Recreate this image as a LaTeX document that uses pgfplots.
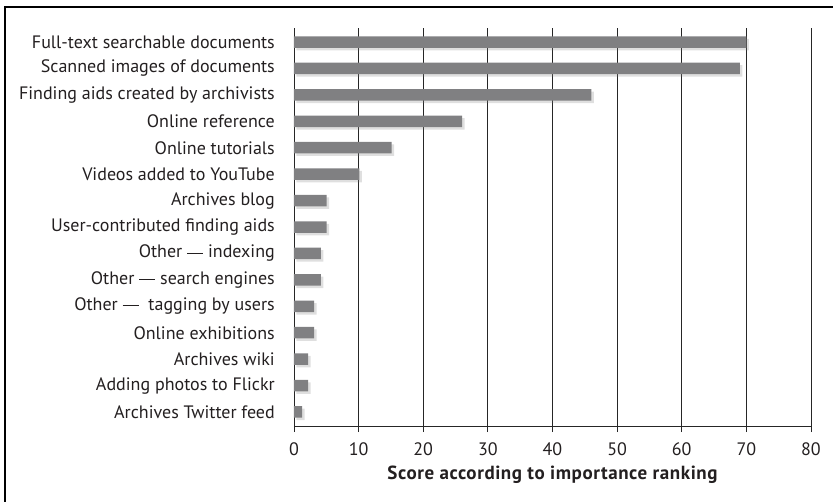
\documentclass[border=0pt]{standalone}
\usepackage{pgfplots}
\pgfplotsset{compat=1.18}
\usepackage{fontspec}
\setmainfont{PT Sans}
\usetikzlibrary{shadows}
\definecolor{barfill}{RGB}{128,128,130}
\definecolor{txt}{RGB}{35,31,32}
\newcommand{\emd}{\raisebox{0.24em}{\rule{0.9em}{0.06em}}}
\pgfplotstableread{
y val
0 70
1 69
2 46
3 26
4 15.1
5 10.1
6 5.05
7 5.05
8 4.15
9 4.15
10 3.1
11 3.1
12 2.2
13 2.2
14 1.24
}\scores
\begin{document}
\begin{tikzpicture}[x=1pt,y=1pt]
\useasboundingbox (0,0) rectangle (833,501);
\draw[line width=1.6pt, black] (5,-5) |- (840,494);
\begin{axis}[
  at={(294pt,75pt)}, anchor=south west,
  scale only axis, width=517pt, height=398pt,
  xbar, bar width=11.5pt,
  xmin=0, xmax=80, xtick={0,10,...,80},
  ymin=-0.53, ymax=14.53, y dir=reverse,
  ytick={0,...,14},
  yticklabels={Full-text searchable documents, Scanned images of documents, Finding aids created by archivists, Online reference, Online tutorials, Videos added to YouTube, Archives blog, User-contributed finding aids, Other \emd{} indexing, Other \emd{} search engines, Other \emd\ \ tagging by users, Online exhibitions, Archives wiki, Adding photos to Flickr, Archives Twitter feed},
  axis x line*=bottom, axis y line*=left,
  axis line style={black!85, line width=0.9pt, -},
  xmajorgrids, major grid style={black!85, line width=0.9pt},
  tick align=outside, major tick length=6pt,
  xtick style={black!85, line width=0.9pt},
  ytick style={draw=none},
  font=\fontsize{18}{21}\selectfont\color{txt},
  /pgf/number format/assume math mode=true,
  xticklabel style={inner sep=0pt, anchor=north, yshift=-10pt},
  yticklabel style={inner sep=0pt, anchor=east, xshift=-13pt},
  xlabel={\fontsize{19}{22}\selectfont\bfseries\addfontfeature{LetterSpace=3}Score according to importance ranking},
  every axis x label/.style={at={(axis description cs:0.5,0)}, anchor=center, yshift=-49pt},
]
\addplot[fill=barfill, draw=none, drop shadow={opacity=0.25, shadow xshift=2.5pt, shadow yshift=-2.5pt}] table[x=val, y=y] {\scores};
\end{axis}
\end{tikzpicture}
\end{document}
